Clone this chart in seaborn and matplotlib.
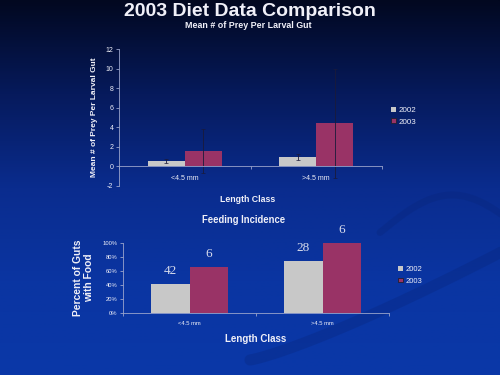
import numpy as np
import pandas as pd
import seaborn as sns
import matplotlib.pyplot as plt
from matplotlib.colors import LinearSegmentedColormap
from matplotlib.ticker import PercentFormatter

# data
length_class = ["<4.5 mm", ">4.5 mm"]
years = ["2002", "2003"]
prey_2002 = [0.58, 0.99]
prey_2003 = [1.53, 4.40]
prey_err_2002 = [0.18, 0.31]
prey_err_2003 = [2.25, 5.6]
fed_2002 = [0.42, 0.747]
fed_2003 = [0.657, 1.0]
n_2002 = ["42", "28"]
n_2003 = ["6", "6"]

colors = {"2002": "#C8C8C8", "2003": "#993366"}
white = "#F0F0F8"
spine_col = "#9AA4CC"

prey = pd.DataFrame({
    "length": length_class * 2,
    "year": ["2002"] * 2 + ["2003"] * 2,
    "value": prey_2002 + prey_2003,
})
fed = pd.DataFrame({
    "length": length_class * 2,
    "year": ["2002"] * 2 + ["2003"] * 2,
    "value": fed_2002 + fed_2003,
})

sns.set_theme(style="ticks")
plt.rcParams["font.family"] = ["Liberation Sans", "DejaVu Sans"]
plt.rcParams["axes.unicode_minus"] = False

fig = plt.figure(figsize=(5, 3.75), dpi=100)

# slide background: vertical blue gradient
bg = fig.add_axes([0, 0, 1, 1], zorder=-10)
cmap = LinearSegmentedColormap.from_list(
    "slide", ["#020820", "#061A5C", "#0A2C8E", "#0A35A2", "#0A38A8"])
grad = np.linspace(0, 1, 256).reshape(-1, 1)
bg.imshow(grad, aspect="auto", cmap=cmap, extent=[0, 1, 0, 1], origin="upper")
# faint swoosh on the right
t = np.linspace(0, 1, 200)
bg.plot(0.50 + 0.52 * t, 0.04 + 0.30 * t ** 1.2, color="#072478", lw=8, alpha=0.3)
bg.plot(0.76 + 0.26 * t, 0.38 + 0.10 * np.sin(t * np.pi * 0.9), color="#072478",
        lw=5, alpha=0.3)
bg.set_xlim(0, 1)
bg.set_ylim(0, 1)
bg.axis("off")


def style_axes(ax, tick_size):
    ax.set_facecolor("none")
    for s in ["top", "right"]:
        ax.spines[s].set_visible(False)
    for s in ["left", "bottom"]:
        ax.spines[s].set_color(spine_col)
        ax.spines[s].set_linewidth(0.6)
    ax.tick_params(axis="y", colors=spine_col, labelcolor=white, labelsize=tick_size,
                   length=2, width=0.6, pad=2)
    ax.tick_params(axis="x", which="major", length=0, labelcolor=white,
                   labelsize=tick_size, pad=6)
    ax.set_xticks([-0.5, 0.5, 1.5], minor=True)
    ax.tick_params(axis="x", which="minor", length=2, width=0.6, colors=spine_col)


def style_legend(ax, x, y, size):
    leg = ax.legend(loc="upper left", bbox_to_anchor=(x, y), bbox_transform=fig.transFigure,
                    frameon=False, fontsize=size, labelcolor=white, handlelength=0.6,
                    handleheight=0.6, handletextpad=0.4, labelspacing=0.55,
                    borderpad=0, borderaxespad=0)
    for h, yr in zip(leg.legend_handles, years):
        h.set_edgecolor("#202030" if yr == "2003" else "none")
        h.set_linewidth(0.6)


# top chart: mean prey per gut
ax1 = fig.add_axes([0.238, 0.504, 0.526, 0.365])
sns.barplot(data=prey, x="length", y="value", hue="year", palette=colors,
            width=0.56, saturation=1, errorbar=None, linewidth=0, ax=ax1)
for cont, err in zip(ax1.containers, [prey_err_2002, prey_err_2003]):
    xs = [p.get_x() + p.get_width() / 2 for p in cont]
    ys = [p.get_height() for p in cont]
    ax1.errorbar(xs, ys, yerr=err, fmt="none", ecolor="#1A1A3A", elinewidth=0.6,
                 capsize=1.2, capthick=0.5)
ax1.set_ylim(-2, 12)
ax1.set_xlim(-0.5, 1.5)
ax1.set_yticks(range(-2, 13, 2))
style_axes(ax1, 5)
ax1.spines["bottom"].set_position(("data", 0))
ax1.set_ylabel("Mean # of Prey Per Larval Gut", color=white, fontsize=6,
               fontweight="bold", va="center")
ax1.yaxis.set_label_coords(-0.095, 0.5)
ax1.set_xlabel("Length Class", color=white, fontsize=6.3, fontweight="bold", va="center")
ax1.xaxis.set_label_coords(0.49, -0.095)
style_legend(ax1, 0.782, 0.716, 5.8)

# bottom chart: feeding incidence
ax2 = fig.add_axes([0.246, 0.165, 0.532, 0.187])
sns.barplot(data=fed, x="length", y="value", hue="year", palette=colors,
            width=0.575, saturation=1, errorbar=None, linewidth=0, ax=ax2)
ax2.set_ylim(0, 1)
ax2.set_xlim(-0.5, 1.5)
ax2.set_yticks(np.arange(0, 1.01, 0.2))
ax2.yaxis.set_major_formatter(PercentFormatter(1.0, decimals=0))
style_axes(ax2, 4.2)
for cont, labels in zip(ax2.containers, [n_2002, n_2003]):
    ax2.bar_label(cont, labels=labels, padding=5, color="#D8DCEC", fontsize=9.5,
                  family=["Liberation Serif", "DejaVu Serif"])
ax2.set_ylabel("Percent of Guts\nwith Food", color=white, fontsize=7.4,
               fontweight="bold", va="center", linespacing=1.15)
ax2.yaxis.set_label_coords(-0.147, 0.51)
ax2.set_xlabel("Length Class", color=white, fontsize=7, fontweight="bold", va="center")
ax2.xaxis.set_label_coords(0.5, -0.37)
ax2.text(0.453, 1.333, "Feeding Incidence", transform=ax2.transAxes, ha="center",
         va="center", color=white, fontsize=6.85, fontweight="bold")
style_legend(ax2, 0.796, 0.29, 5.5)

fig.text(0.5, 1 - 11 / 375, "2003 Diet Data Comparison", ha="center", va="center",
         color=white, fontsize=14, fontweight="bold")
fig.text(0.496, 1 - 26 / 375, "Mean # of Prey Per Larval Gut", ha="center", va="center",
         color=white, fontsize=6.4, fontweight="bold")

fig.savefig("out.png", dpi=100)
